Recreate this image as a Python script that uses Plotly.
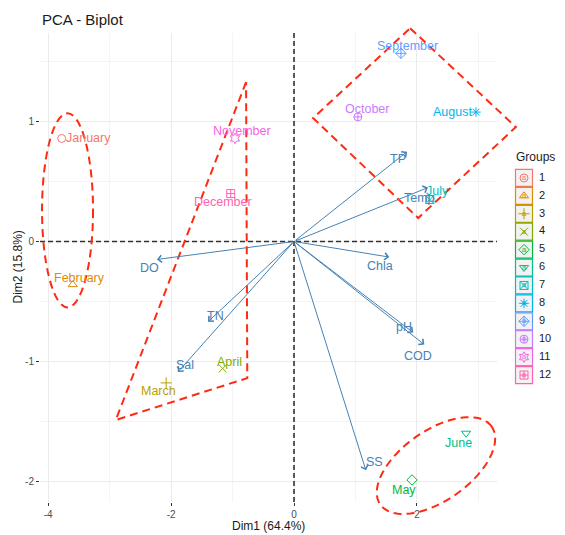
import numpy as np
import plotly.graph_objects as go

# ---------------- data ----------------
months = ["January", "February", "March", "April", "May", "June", "July",
          "August", "September", "October", "November", "December"]
groups = [str(i) for i in range(1, 13)]
dim1 = [-3.78, -3.60, -2.08, -1.16, 1.92, 2.80, 2.21, 2.96, 1.74, 1.04, -0.96, -1.03]
dim2 = [0.86, -0.36, -1.18, -1.06, -1.99, -1.60, 0.35, 1.08, 1.57, 1.04, 0.86, 0.40]

variables = ["DO", "TP", "Temp", "Chla", "pH", "COD", "SS", "TN", "Sal"]
var_d1 = [-2.23, 1.84, 2.18, 1.55, 1.94, 2.12, 1.17, -1.40, -1.89]
var_d2 = [-0.15, 0.75, 0.45, -0.13, -0.76, -0.86, -1.91, -0.67, -1.09]

x_ticks = [-4, -2, 0, 2]
y_ticks = [-2, -1, 0, 1]

# ---------------- styles ----------------
colors = ["#F8766D", "#DE8C00", "#B79F00", "#7CAE00", "#00BA38", "#00C08B",
          "#00BFC4", "#00B4F0", "#619CFF", "#C77CFF", "#F564E3", "#FF64B0"]
symbols = ["circle-open", "triangle-up-open", "cross-thin-open", "x-thin-open",
           "diamond-open", "triangle-down-open", "square-x-open", "asterisk-open",
           "diamond-cross-open", "circle-cross-open", "hexagram-open", "square-cross-open"]
# label nudges in screen pixels (dx right, dy up), like repelled ggplot labels
ind_nudge = [(27, 0), (7, 7), (-8, -8), (7, 7), (-8, -10), (-8, -10), (8, 9),
             (-23, 0), (7, 7), (9, 8), (7, 7), (-8, -8)]
var_nudge = [(-7, -9), (-9, -7), (-8, -10), (-9, -9), (-9, 6), (-6, -11),
             (9, 8), (8, 6), (7, 7)]
VAR_COL = "#4682B4"
FONT = "Liberation Sans, Arial, sans-serif"
LABEL_SIZE = 12.5

# plot-area geometry (pixels) : left 40, right 497, top 33, bottom 502 ; figure 565 x 535
ML, MR, MT, MB = 40, 5, 33, 33
PW = 565 - ML - MR
PH = 535 - MT - MB

XR = [-4.133, 3.303]
YR = [-2.174, 1.740]
X_DOM = [0.0, (497 - ML) / PW]


def fx(v):
    return (v - XR[0]) / (XR[1] - XR[0])


def fy(v):
    return (v - YR[0]) / (YR[1] - YR[0])


def px_x(p):
    return (p - ML) / PW


def px_y(p):
    return (535 - MB - p) / PH


fig = go.Figure()

# individuals
fig.add_trace(go.Scatter(
    x=dim1, y=dim2, mode="markers",
    marker=dict(symbol=symbols, color=colors, size=8, line=dict(width=1)),
    showlegend=False, hoverinfo="skip", cliponaxis=False))

annotations = []
# variable arrows
for vx, vy in zip(var_d1, var_d2):
    annotations.append(dict(
        x=vx, y=vy, ax=0, ay=0, xref="x", yref="y", axref="x", ayref="y",
        text="", showarrow=True, arrowhead=4, arrowsize=1.4, arrowwidth=1,
        arrowcolor=VAR_COL, standoff=0))
# individual labels
for name, vx, vy, col, (dx, dy) in zip(months, dim1, dim2, colors, ind_nudge):
    annotations.append(dict(x=vx, y=vy, xref="x", yref="y", text=name, showarrow=False,
                            xshift=dx, yshift=dy, xanchor="center", yanchor="middle",
                            font=dict(size=LABEL_SIZE, color=col, family=FONT)))
# variable labels
for name, vx, vy, (dx, dy) in zip(variables, var_d1, var_d2, var_nudge):
    annotations.append(dict(x=vx, y=vy, xref="x", yref="y", text=name, showarrow=False,
                            xshift=dx, yshift=dy, xanchor="center", yanchor="middle",
                            font=dict(size=LABEL_SIZE, color=VAR_COL, family=FONT)))

shapes = []
# dashed zero lines
shapes.append(dict(type="line", xref="x", yref="y domain", x0=0, x1=0, y0=0, y1=1,
                   line=dict(color="#333333", width=1.6, dash="5px,3px"), layer="above"))
shapes.append(dict(type="line", xref="x domain", yref="y", x0=0, x1=1, y0=0, y1=0,
                   line=dict(color="#333333", width=1.6, dash="5px,3px"), layer="above"))

RED = dict(color="#FF2A12", width=2, dash="8px,5px")

# ellipse around January / February
shapes.append(dict(type="circle", xref="x domain", yref="y domain",
                   x0=fx(-4.10), x1=fx(-3.27), y0=fy(-0.55), y1=fy(1.07),
                   line=RED, layer="above"))


def poly_path(pts):
    return "M " + " L ".join(f"{fx(a):.4f},{fy(b):.4f}" for a, b in pts) + " Z"


# polygon around Nov / Dec / Mar / Apr
shapes.append(dict(type="path", xref="x domain", yref="y domain",
                   path=poly_path([(-0.78, 1.33), (-2.90, -1.49), (-0.76, -1.14)]),
                   line=RED, layer="above"))
# diamond around Sep / Oct / Aug / Jul
shapes.append(dict(type="path", xref="x domain", yref="y domain",
                   path=poly_path([(1.89, 1.78), (3.61, 0.955), (2.02, 0.196), (0.31, 1.03)]),
                   line=RED, layer="above"))
# rotated ellipse around May / June (semi-axes given in plot pixels, angle 35 deg)
cx, cy = 2.31, -1.87
a_px, b_px, ang = 68, 35, np.deg2rad(35)
sx = (497 - ML) / (XR[1] - XR[0])
sy = PH / (YR[1] - YR[0])
t = np.linspace(0, 2 * np.pi, 73)
ex = cx + (a_px * np.cos(t) * np.cos(ang) - b_px * np.sin(t) * np.sin(ang)) / sx
ey = cy + (a_px * np.cos(t) * np.sin(ang) + b_px * np.sin(t) * np.cos(ang)) / sy
shapes.append(dict(type="path", xref="x domain", yref="y domain",
                   path=poly_path(list(zip(ex, ey))), line=RED, layer="above"))

# ---------------- custom legend ----------------
gnum = list(range(1, 13))
fig.add_trace(go.Scatter(
    x=[19] * 12, y=gnum, mode="markers", xaxis="x2", yaxis="y2",
    marker=dict(symbol="square", size=17, color="#F2F2F2",
                line=dict(color=colors, width=1.2)),
    showlegend=False, hoverinfo="skip", cliponaxis=False))
fig.add_trace(go.Scatter(
    x=[19] * 12, y=gnum, mode="markers", xaxis="x2", yaxis="y2",
    marker=dict(symbol=symbols, color=colors, size=8, line=dict(width=1)),
    showlegend=False, hoverinfo="skip", cliponaxis=False))
fig.add_trace(go.Scatter(
    x=[19] * 12, y=gnum, mode="text", text=["a"] * 12, xaxis="x2", yaxis="y2",
    textposition="middle center",
    textfont=dict(color=colors, size=8, family=FONT),
    showlegend=False, hoverinfo="skip", cliponaxis=False))
fig.add_trace(go.Scatter(
    x=[34] * 12, y=gnum, mode="text", text=groups, xaxis="x2", yaxis="y2",
    textposition="middle right",
    textfont=dict(color="#1a1a1a", size=11, family=FONT),
    showlegend=False, hoverinfo="skip", cliponaxis=False))

annotations.append(dict(x=px_x(514), y=px_y(157), xref="paper", yref="paper", text="Groups",
                        showarrow=False, xanchor="left", yanchor="middle",
                        font=dict(size=12, color="#1a1a1a", family=FONT)))
# axis titles
annotations.append(dict(x=px_x(268.5), y=px_y(526), xref="paper", yref="paper",
                        text="Dim1 (64.4%)", showarrow=False, xanchor="center", yanchor="middle",
                        font=dict(size=12, color="#1a1a1a", family=FONT)))
annotations.append(dict(x=px_x(17), y=px_y(267.5), xref="paper", yref="paper",
                        text="Dim2 (15.8%)", showarrow=False, textangle=-90,
                        xanchor="center", yanchor="middle",
                        font=dict(size=12, color="#1a1a1a", family=FONT)))

axis_common = dict(showgrid=True, gridcolor="#EBEBEB", gridwidth=1,
                   zeroline=False, showline=False, ticks="outside", ticklen=3,
                   tickcolor="#333333", tickfont=dict(size=10, color="#4D4D4D", family=FONT),
                   automargin=False, fixedrange=True)

fig.update_layout(
    width=565, height=535,
    margin=dict(l=ML, r=MR, t=MT, b=MB),
    paper_bgcolor="white", plot_bgcolor="white",
    font=dict(family=FONT, color="#1a1a1a"),
    title=dict(text="PCA - Biplot", x=(ML + 2) / 565, xref="container", xanchor="left",
               y=1 - 20 / 535, yref="container", yanchor="middle",
               font=dict(size=15, color="#1a1a1a", family=FONT)),
    xaxis=dict(domain=X_DOM, range=XR, tickvals=x_ticks, ticktext=[str(v) for v in x_ticks],
               minor=dict(dtick=1, tick0=0, showgrid=True, gridcolor="#F4F4F4", gridwidth=0.8),
               ticklabelstandoff=0, **axis_common),
    yaxis=dict(range=YR, tickvals=y_ticks, ticktext=[str(v) for v in y_ticks],
               minor=dict(dtick=0.5, tick0=0, showgrid=True, gridcolor="#F4F4F4", gridwidth=0.8),
               **axis_common),
    xaxis2=dict(domain=[px_x(505), 1.0], range=[0, 55], visible=False, anchor="y2",
                fixedrange=True, automargin=False),
    yaxis2=dict(domain=[px_y(384), px_y(169)], range=[12.5, 0.5], visible=False, anchor="x2",
                fixedrange=True, automargin=False),
    shapes=shapes,
    annotations=annotations,
    showlegend=False,
)

fig.write_html("out.html", config={"displayModeBar": False},
               post_script="document.body.style.margin='0';")
